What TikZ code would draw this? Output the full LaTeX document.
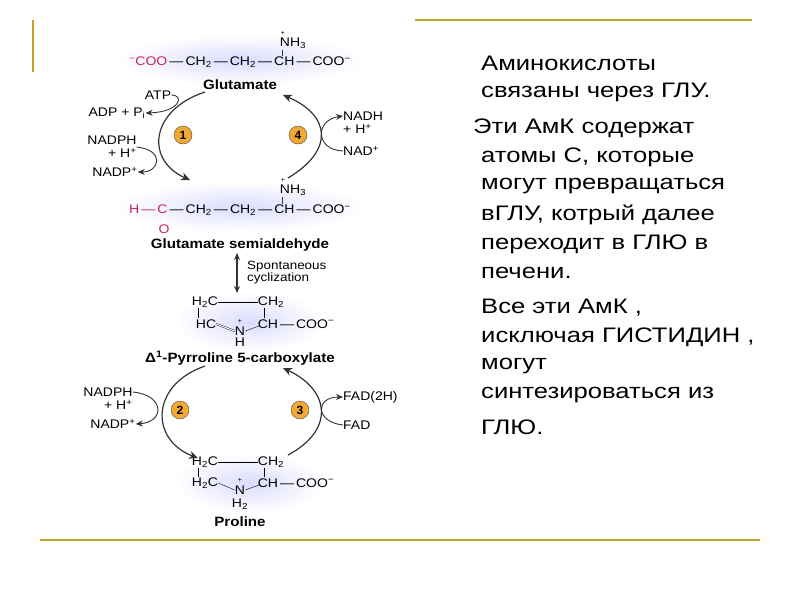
\documentclass[tikz,border=0pt]{standalone}
\usepackage{fontspec}
\setmainfont{Liberation Sans}
\newfontfamily\rufont[FakeStretch=1.22]{Liberation Sans}
\newfontfamily\chfont[FakeStretch=1.12]{Liberation Sans}
\usetikzlibrary{arrows.meta}
\definecolor{gold}{RGB}{196,164,40}
\definecolor{mag}{RGB}{200,40,90}
\definecolor{orng}{RGB}{240,170,50}
\newcommand{\sub}[1]{\textsubscript{#1}}
\newcommand{\spr}[1]{\textsuperscript{#1}}
\newcommand{\bd}{\,—\,}
\tikzset{
 ch/.style={font=\chfont\fontsize{12.5}{13}\selectfont,inner sep=0pt},
 lbl/.style={font=\chfont\bfseries\fontsize{13.5}{14}\selectfont,inner sep=0pt},
 rt/.style={font=\rufont\fontsize{21}{23}\selectfont,anchor=west,inner sep=0pt},
 num/.style={circle,draw=black!70,fill=orng,minimum size=18pt,inner sep=0pt,font=\bfseries\fontsize{12}{12}\selectfont},
 cyc/.style={draw=black!80,line width=1.2pt,-{Stealth[length=9pt,width=8pt]}},
 cof/.style={draw=black!80,line width=0.9pt,-{Stealth[length=7pt,width=6pt]}},
 glow/.style={shading=radial,inner color=blue!14,outer color=white}
}
\begin{document}
\begin{tikzpicture}[x=1pt,y=-1pt]
\useasboundingbox (0,0) rectangle (800,600);
\fill[white] (0,0) rectangle (800,600);
\draw[gold,line width=1.3pt] (415,20) -- (752,20);
\draw[gold,line width=1.5pt] (33,20) -- (33,72);
\draw[gold,line width=1.3pt] (40,540) -- (760,540);
\shade[glow] (240,60) ellipse (125 and 25);
\shade[glow] (240,207) ellipse (125 and 25);
\shade[glow] (250,322) ellipse (75 and 30);
\shade[glow] (250,483) ellipse (75 and 30);
% glutamate
\node[ch] (glu) at (240,62) {\textcolor{mag}{\spr{−}COO}\bd CH\sub{2}\bd CH\sub{2}\bd CH\bd COO\spr{−}};
\node[ch] (n1) at (293,43) {NH\sub{3}};
\node[ch,font=\fontsize{7}{7}\selectfont] at (283,33) {+};
\draw[black!80] (282,50) -- (282,56);
\node[lbl] (glul) at (240,85) {Glutamate};
% semialdehyde
\node[ch] (sa) at (240,210) {\textcolor{mag}{H\bd C}\bd CH\sub{2}\bd CH\sub{2}\bd CH\bd COO\spr{−}};
\node[ch] (n2) at (293,190) {NH\sub{3}};
\node[ch,font=\fontsize{7}{7}\selectfont] at (283,180) {+};
\draw[black!80] (282,197) -- (282,204);
\draw[mag,double,double distance=1.4pt] (164,216) -- (164,222);
\node[ch,text=mag] (o) at (164,229) {O};
\node[lbl] (sal) at (240,245) {Glutamate semialdehyde};
% spontaneous
\coordinate (s1) at (237,253);
\coordinate (s2) at (237,293);
\draw[cof,{Stealth[length=7pt,width=6pt]}-{Stealth[length=7pt,width=6pt]},line width=1.1pt] (s1) -- (s2);
\node[ch,align=left,anchor=west,font=\chfont\fontsize{12}{12}\selectfont] (spon) at (247,273) {Spontaneous\\cyclization};
% pyrroline
\node[ch] (p1) at (205,302) {H\sub{2}C};
\node[ch] (p2) at (271,302) {CH\sub{2}};
\node[ch] (p3) at (206,324) {HC};
\node[ch] (p4) at (240,331) {N};
\node[ch,font=\fontsize{7}{7}\selectfont] at (240,321) {+};
\node[ch] (p5) at (296,324) {CH\bd COO\spr{−}};
\node[ch] (p6) at (240,342) {H};
\draw (p1) -- (p2); \draw (198,308) -- (198,318); \draw (264,308) -- (264,318);
\draw[double,double distance=1pt] (p3.east) -- (p4.west);
\draw (p4.east) -- (259,326);
\node[lbl] (pyl) at (240,358) {Δ\spr{1}-Pyrroline 5-carboxylate};
% proline
\node[ch] (r1) at (205,462) {H\sub{2}C};
\node[ch] (r2) at (271,462) {CH\sub{2}};
\node[ch] (r3) at (205,483) {H\sub{2}C};
\node[ch] (r4) at (240,490) {N};
\node[ch,font=\fontsize{7}{7}\selectfont] at (240,480) {+};
\node[ch] (r5) at (296,483) {CH\bd COO\spr{−}};
\node[ch] (r6) at (240,504) {H\sub{2}};
\draw (r1) -- (r2); \draw (198,468) -- (198,477); \draw (264,468) -- (264,477);
\draw (r3.east) -- (r4.west); \draw (r4.east) -- (259,485);
\node[lbl] (prl) at (240,522) {Proline};
% cycles
\coordinate (a1) at (205,92); \coordinate (a2) at (190,180);
\draw[cyc] (a1) .. controls (150,110) and (145,160) .. (a2);
\coordinate (b1) at (288,178); \coordinate (b2) at (283,95);
\draw[cyc] (b1) .. controls (335,150) and (330,115) .. (b2);
\node[num] (c1) at (183,135) {1};
\node[num] (c4) at (298,135) {4};
\coordinate (d1) at (205,366); \coordinate (d2) at (198,458);
\draw[cyc] (d1) .. controls (150,385) and (150,440) .. (d2);
\coordinate (e1) at (288,455); \coordinate (e2) at (283,368);
\draw[cyc] (e1) .. controls (335,430) and (330,390) .. (e2);
\node[num] (c2) at (180,410) {2};
\node[num] (c3) at (300,410) {3};
% cofactors
\node[ch] (atp) at (158,95) {ATP};
\node[ch] (adp) at (117,113) {ADP + P\sub{i}};
\draw[cof] (atp.east) .. controls (185,95) and (180,112) .. (adp.east);
\node[ch,align=right] (nadph1) at (112,147) {NADPH\\ + H\spr{+}};
\node[ch] (nadp1) at (115,172) {NADP\spr{+}};
\draw[cof] (nadph1.east) .. controls (165,150) and (160,172) .. (nadp1.east);
\node[ch,align=left,anchor=west] (nadh) at (343,123) {NADH\\ + H\spr{+}};
\node[ch,anchor=west] (nad) at (343,151) {NAD\spr{+}};
\draw[cof] (nad.west) .. controls (315,150) and (315,120) .. (nadh.west |- 0,116);
\node[ch,align=right] (nadph2) at (108,399) {NADPH\\ + H\spr{+}};
\node[ch] (nadp2) at (113,424) {NADP\spr{+}};
\draw[cof] (nadph2.east |- 0,392) .. controls (165,395) and (165,422) .. (nadp2.east);
\node[ch,anchor=west] (fadh) at (343,397) {FAD(2H)};
\node[ch,anchor=west] (fad) at (343,425) {FAD};
\draw[cof] (fad.west) .. controls (315,422) and (315,397) .. (fadh.west);
% right text
\node[rt] (t1) at (481,63) {Аминокислоты};
\node[rt] (t2) at (481,92) {связаны через ГЛУ.};
\node[rt] (t3) at (473,128) {Эти АмК содержат};
\node[rt] (t4) at (481,157) {атомы С, которые};
\node[rt] (t5) at (481,186) {могут превращаться};
\node[rt] (t6) at (481,215) {вГЛУ, котрый далее};
\node[rt] (t7) at (481,244) {переходит в ГЛЮ в};
\node[rt] (t8) at (481,273) {печени.};
\node[rt] (t9) at (481,308) {Все эти АмК ,};
\node[rt] (t10) at (481,337) {исключая ГИСТИДИН ,};
\node[rt] (t11) at (481,366) {могут};
\node[rt] (t12) at (481,395) {синтезироваться  из};
\node[rt] (t13) at (481,427) {ГЛЮ.};
\end{tikzpicture}
\end{document}
